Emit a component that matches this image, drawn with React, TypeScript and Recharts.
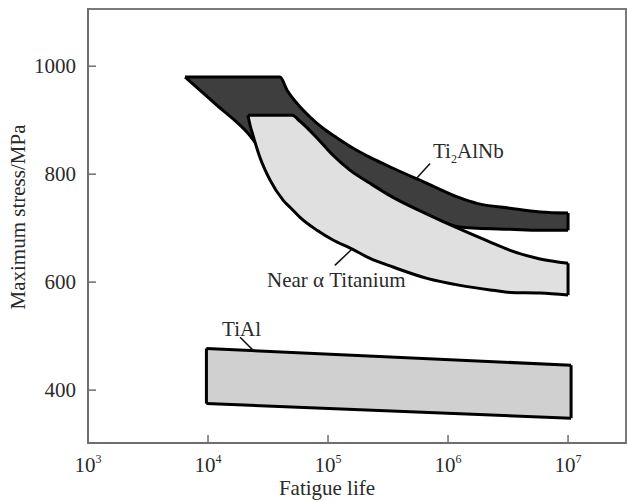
import React from "react";
import { ComposedChart, Area, Line, XAxis, YAxis, ReferenceArea, ReferenceLine, ReferenceDot } from "recharts";

const FONT = '"Liberation Serif", "Times New Roman", serif';

const lifeTicks = [1e3, 1e4, 1e5, 1e6, 1e7];
const stressTicks = [400, 600, 800, 1000];

// Ti2AlNb scatter band
const ti2AlNbLife = [6430, 11700, 21500, 28200, 39800, 45500, 55200, 70800, 90900, 119000, 162000, 224000, 348000, 668000, 1260000, 1740000, 3290000, 5840000, 10000000];
const ti2AlNbUpper = [980, 980, 980, 980, 980, 956, 931, 906, 885, 867, 848, 831, 811, 783, 756, 746, 737, 730, 728];
const ti2AlNbLower = [980, 929, 876, 844, 830, 826, 820, 813, 807, 804, 793, 778, 754, 724, 702, 700, 698, 696, 696];

// Near alpha titanium band
const nearAlphaLife = [21500, 22400, 23700, 27100, 32900, 42200, 50100, 58400, 81000, 110000, 153000, 224000, 348000, 668000, 1260000, 2370000, 3290000, 5840000, 10000000];
const nearAlphaUpper = [909, 909, 909, 909, 909, 909, 909, 898, 867, 835, 807, 783, 757, 726, 698, 672, 659, 643, 635];
const nearAlphaLower = [909, 891, 872, 831, 789, 752, 735, 720, 696, 678, 663, 644, 628, 607, 594, 585, 581, 580, 576];

// TiAl band
const tiAlLife = [9700, 10600000];
const tiAlUpper = [477, 446];
const tiAlLower = [375, 348];

// annotations
const labelNames = ["TiAl", "Ti2AlNb", "Near \u03b1 Titanium"];
const labelLife = [13100, 750000, 31000];
const labelStress = [500, 830, 591];
const leaderLines = [
  [{ x: 18500, y: 498 }, { x: 23700, y: 474 }],
  [{ x: 708000, y: 820 }, { x: 531000, y: 789 }],
  [{ x: 114000, y: 631 }, { x: 158000, y: 661 }],
];

const toBand = (life: number[], lower: number[], upper: number[]) =>
  life.map((n, i) => ({ n, band: [lower[i], upper[i]] }));

const cap = (life: number[], lower: number[], upper: number[], i: number) => [
  { n: life[i], s: lower[i] },
  { n: life[i], s: upper[i] },
];

const ti2AlNbData = toBand(ti2AlNbLife, ti2AlNbLower, ti2AlNbUpper);
const nearAlphaData = toBand(nearAlphaLife, nearAlphaLower, nearAlphaUpper);
const tiAlData = toBand(tiAlLife, tiAlLower, tiAlUpper);

const caps = [
  cap(ti2AlNbLife, ti2AlNbLower, ti2AlNbUpper, ti2AlNbLife.length - 1),
  cap(nearAlphaLife, nearAlphaLower, nearAlphaUpper, nearAlphaLife.length - 1),
  cap(tiAlLife, tiAlLower, tiAlUpper, 0),
  cap(tiAlLife, tiAlLower, tiAlUpper, 1),
];

const LifeTick = (props: any) => {
  const { x, y, payload } = props;
  const exp = Math.round(Math.log10(payload.value));
  return (
    <g>
      <line x1={x} x2={x} y1={y - 8} y2={y - 16} stroke="#6e6e6e" strokeWidth={1.5} />
      <text x={x} y={y + 21} textAnchor="middle" fontFamily={FONT} fontSize={21} fill="#2a2a2a">
        10<tspan dy={-9} fontSize={12}>{exp}</tspan>
      </text>
    </g>
  );
};

const StressTick = (props: any) => {
  const { x, y, payload } = props;
  return (
    <g>
      <line x1={x + 12} x2={x + 20} y1={y} y2={y} stroke="#6e6e6e" strokeWidth={1.5} />
      <text x={x} y={y + 7} textAnchor="end" fontFamily={FONT} fontSize={21} fill="#2a2a2a">
        {payload.value}
      </text>
    </g>
  );
};

const XTitle = (props: any) => {
  const vb = props.viewBox;
  return (
    <text x={vb.x + 239} y={vb.y + 52} textAnchor="middle" fontFamily={FONT} fontSize={21} fill="#2a2a2a">
      Fatigue life
    </text>
  );
};

const YTitle = (props: any) => {
  const vb = props.viewBox;
  const cy = vb.y + vb.height / 2 - 9;
  return (
    <text x={25} y={cy} transform={`rotate(-90, 25, ${cy})`} textAnchor="middle" fontFamily={FONT} fontSize={21} fill="#2a2a2a">
      Maximum stress/MPa
    </text>
  );
};

const NameLabel = (name: string) => (props: any) => {
  const { cx, cy } = props;
  if (name === "Ti2AlNb") {
    return (
      <text x={cx} y={cy} fontFamily={FONT} fontSize={21} fill="#2a2a2a">
        Ti<tspan dy={5} fontSize={12}>2</tspan><tspan dy={-5}>AlNb</tspan>
      </text>
    );
  }
  return (
    <text x={cx} y={cy} fontFamily={FONT} fontSize={21} fill="#2a2a2a">
      {name}
    </text>
  );
};

export default function App() {
  return (
    <div style={{ position: "absolute", left: 0, top: 0, background: "#fff" }}>
      <ComposedChart width={627} height={502} margin={{ top: 9, right: 1, bottom: 4, left: 0 }}>
        <XAxis
          dataKey="n"
          type="number"
          scale="log"
          domain={[1000, 30400000]}
          allowDataOverflow
          ticks={lifeTicks}
          interval={0}
          tickSize={0}
          tickLine={false}
          tickMargin={8}
          tick={<LifeTick />}
          height={55}
          axisLine={{ stroke: "#6e6e6e", strokeWidth: 2 }}
          label={XTitle}
        />
        <YAxis
          type="number"
          domain={[302, 1106]}
          allowDataOverflow
          ticks={stressTicks}
          interval={0}
          tickSize={0}
          tickLine={false}
          tickMargin={12}
          tick={<StressTick />}
          width={88}
          axisLine={{ stroke: "#6e6e6e", strokeWidth: 2 }}
          label={YTitle}
        />
        <ReferenceArea x1={1000} x2={30400000} y1={302} y2={1106} fill="none" stroke="#7a7a7a" strokeWidth={2} />

        <Area
          data={tiAlData}
          dataKey="band"
          type="linear"
          fill="#d0d0d0"
          fillOpacity={1}
          stroke="#000"
          strokeWidth={3}
          isAnimationActive={false}
        />
        <Area
          data={ti2AlNbData}
          dataKey="band"
          type="monotone"
          fill="#3e3e3e"
          fillOpacity={1}
          stroke="#000"
          strokeWidth={3}
          isAnimationActive={false}
        />
        <Area
          data={nearAlphaData}
          dataKey="band"
          type="monotone"
          fill="#e0e0e0"
          fillOpacity={1}
          stroke="#000"
          strokeWidth={3}
          isAnimationActive={false}
        />
        {caps.map((c, i) => (
          <Line
            key={i}
            data={c}
            dataKey="s"
            type="linear"
            stroke="#000"
            strokeWidth={3}
            dot={false}
            activeDot={false}
            isAnimationActive={false}
          />
        ))}
        {leaderLines.map((seg, i) => (
          <ReferenceLine key={i} segment={seg} stroke="#111" strokeWidth={1.5} />
        ))}
        {labelNames.map((name, i) => (
          <ReferenceDot key={name} x={labelLife[i]} y={labelStress[i]} r={1} shape={NameLabel(name)} />
        ))}
      </ComposedChart>
    </div>
  );
}
